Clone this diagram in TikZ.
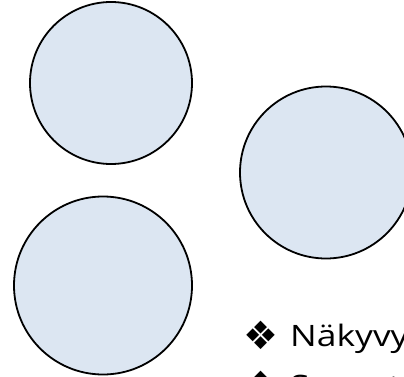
\documentclass[tikz,border=0pt]{standalone}
\usepackage{fontspec}
\setmainfont{Open Sans}
\newfontfamily\widefont[FakeStretch=1.2]{Open Sans}
\newfontfamily\symfont{DejaVu Sans}
\definecolor{circfill}{HTML}{DCE6F2}
\tikzset{
  bubble/.style={circle, draw=black, fill=circfill, line width=1.8pt, inner sep=0pt},
  bullettext/.style={anchor=base west, inner sep=0pt, font=\widefont\fontsize{29.5}{29.5}\selectfont},
  bulletsym/.style={anchor=base, inner sep=0pt, font=\symfont\fontsize{39}{39}\selectfont}
}
\begin{document}
\begin{tikzpicture}[x=1pt,y=-1pt]
\useasboundingbox (0,0) rectangle (404,377);
\clip (0,0) rectangle (404,377);
\node[bubble, minimum size=162pt] (c1) at (111,83) {};
\node[bubble, minimum size=172pt] (c2) at (326,172.5) {};
\node[bubble, minimum size=178pt] (c3) at (103,285.5) {};
\node[bulletsym] (b1) at (260.5,349) {❖};
\node[bullettext] (t1) at (290,346.5) {Näkyvyys};
\node[bulletsym] (b2) at (260.5,399) {❖};
\node[bullettext] (t2) at (290,396.5) {Saavutettavuus};
\end{tikzpicture}
\end{document}
